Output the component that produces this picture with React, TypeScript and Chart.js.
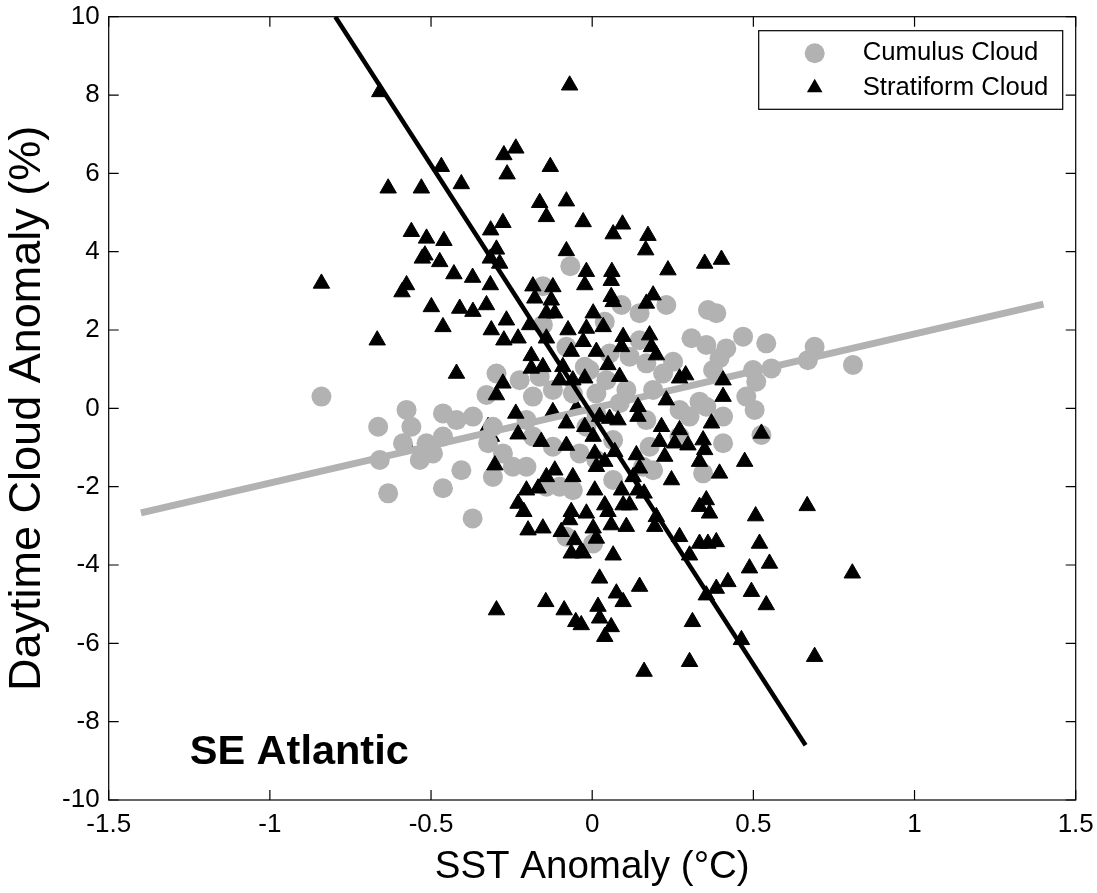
import React, { useEffect, useRef } from 'react';
import { Chart, registerables } from 'chart.js';

Chart.register(...registerables);

const FONT = '"Liberation Sans", Arial, Helvetica, sans-serif';
const GRAY = 'rgb(178,178,178)';

const xTicks = [-1.5, -1, -0.5, 0, 0.5, 1, 1.5];
const yTicks = [-10, -8, -6, -4, -2, 0, 2, 4, 6, 8, 10];

const legendLabels = ['Cumulus Cloud', 'Stratiform Cloud'];
const panelLabel = 'SE Atlantic';

// Cumulus cloud (gray circles)
const cumulusX = [
  -0.068, -0.153, -0.84, -0.664, -0.576, -0.561, -0.587, -0.659, -0.633, -0.514,
  -0.494, -0.535, -0.463, -0.421, -0.37, -0.463, -0.406, -0.463, -0.297, -0.328,
  -0.225, -0.163, -0.153, -0.308, -0.323, -0.277, -0.308, -0.246, -0.204, -0.184,
  -0.122, -0.06, -0.184, -0.122, -0.204, -0.039, -0.101, -0.06, -0.023, -0.08,
  -0.142, -0.371, -0.08, 0.003, 0.091, 0.147, 0.23, 0.359, 0.385, 0.039,
  0.308, 0.354, 0.416, 0.468, 0.54, 0.69, 0.669, 0.809, 0.556, 0.499,
  0.509, 0.478, 0.504, 0.406, 0.525, 0.406, 0.375, 0.395, 0.251, 0.22,
  0.333, 0.271, 0.302, 0.354, 0.168, 0.147, 0.116, 0.054, 0.044, 0.106,
  0.189, 0.168, 0.085, 0.013, -0.008, -0.018, 0.065, 0.178, 0.158, 0.189,
  0.271, 0.344, 0.065, 0.013, 0.013,
];
const cumulusY = [
  3.63, 3.12, 0.3, -0.47, -0.04, -0.47, -0.89, -1.32, -2.17, -0.89,
  -1.15, -1.32, -0.13, -0.3, -0.21, -0.72, -1.58, -2.04, 0.89, 0.34,
  0.72, 0.81, 2.13, -0.47, -0.89, -1.15, -1.75, -1.49, -0.3, 0.3,
  0.47, 0.38, -0.72, -0.98, -1.49, -1.15, -2.0, -2.09, 1.06, 1.57,
  -2.0, -2.81, -3.28, -3.45, 2.64, 2.43, 2.64, 2.51, 2.43, 2.21,
  1.79, 1.62, 1.53, 1.83, 1.66, 1.57, 1.23, 1.11, 1.02, 0.98,
  0.68, 0.3, -0.04, -0.21, -0.68, -0.89, 0.98, 1.28, 1.19, 0.89,
  0.17, -0.04, -0.21, 0.04, 1.15, 1.74, 1.32, 1.4, 0.72, 0.47,
  0.47, -0.3, 0.13, 0.38, 0.98, -0.47, -0.81, -0.98, -1.49, -1.58,
  -0.72, -1.66, -1.83, -1.32, -0.13,
];

// Stratiform cloud (black triangles)
const stratX = [
  -0.07, -0.659, -0.237, -0.274, -0.13, -0.468, -0.264, -0.633, -0.53, -0.406,
  -0.163, -0.08, -0.142, -0.028, -0.277, -0.315, -0.561, -0.514, -0.46, -0.297,
  -0.08, -0.519, -0.527, -0.473, -0.316, -0.287, -0.018, -0.429, -0.371, -0.84,
  -0.576, -0.316, -0.184, -0.122, -0.023, 0.094, 0.065, 0.173, 0.166, 0.401,
  0.349, 0.235, 0.061, 0.059, -0.59, -0.499, -0.411, -0.37, -0.328, -0.178,
  -0.127, -0.266, -0.313, -0.194, -0.142, -0.116, -0.463, -0.274, -0.23, -0.075,
  -0.018, -0.142, -0.667, -0.189, -0.153, -0.189, -0.091, -0.065, -0.028, -0.101,
  -0.06, -0.023, -0.421, -0.277, -0.297, -0.237, -0.08, -0.023, -0.23, -0.158,
  -0.08, -0.302, -0.142, -0.116, -0.06, -0.204, -0.168, 0.059, 0.065, 0.189,
  0.168, 0.003, 0.034, 0.096, 0.178, 0.091, 0.184, 0.013, 0.199, 0.049,
  0.085, 0.271, 0.29, 0.406, 0.406, 0.23, 0.142, 0.142, 0.023, 0.054,
  0.08, 0.003, 0.215, 0.271, 0.37, 0.209, 0.256, 0.297, 0.344, 0.349,
  0.525, 0.225, 0.333, 0.008, 0.07, 0.137, 0.039, 0.147, 0.013, 0.473,
  0.395, 0.246, 0.127, 0.008, 0.091, 0.142, 0.161, 0.039, 0.096, -0.018,
  0.049, 0.116, 0.199, 0.194, 0.333, 0.354, 0.364, 0.507, 0.667, 0.003,
  0.059, 0.106, 0.013, -0.034, 0.271, 0.333, 0.359, 0.385, 0.302, 0.519,
  0.065, 0.488, 0.55, 0.807, 0.023, 0.147, 0.075, 0.096, 0.354, 0.385,
  0.421, 0.494, 0.54, 0.018, 0.023, -0.034, 0.059, 0.039, 0.311, 0.463,
  0.302, 0.161, 0.69, -0.23, -0.212, -0.199, -0.153, -0.065, -0.07, -0.096,
  -0.054, -0.065, -0.028, -0.297, -0.144, -0.087, -0.051,
];
const stratY = [
  8.25, 8.08, 6.64, 6.47, 6.17, 6.17, 5.98, 5.62, 5.62, 5.73,
  5.25, 5.29, 4.89, 4.76, 4.74, 4.55, 4.51, 4.34, 4.28, 4.06,
  4.02, 3.91, 3.83, 3.74, 3.83, 3.7, 3.49, 3.43, 3.34, 3.19,
  3.15, 3.15, 3.12, 3.1, 3.15, 4.7, 4.45, 4.41, 4.04, 3.8,
  3.7, 3.53, 3.49, 3.26, 2.97, 2.59, 2.55, 2.47, 2.64, 2.81,
  2.76, 2.25, 2.0, 2.13, 2.43, 2.43, 2.08, 1.74, 1.79, 2.0,
  2.04, 1.79, 1.74, 1.34, 1.06, 1.02, 1.06, 1.45, 1.7, 0.72,
  0.72, 0.77, 0.89, 0.64, 0.34, -0.13, -0.38, -0.47, -0.66, -0.85,
  -0.95, -1.45, -1.75, -1.58, -1.75, -2.09, -2.04, 2.85, 2.72, 2.89,
  2.68, 2.43, 2.08, 1.83, 1.87, 1.57, 1.57, 1.45, 1.36, 1.11,
  0.81, 0.77, 0.85, 0.72, 0.3, 0.21, 0.04, -0.21, -0.21, -0.26,
  -0.3, -0.72, -0.47, -0.55, -0.38, -0.85, -0.89, -0.94, -0.81, -1.06,
  -0.64, -1.23, -1.36, -1.15, -1.11, -1.19, -1.36, -1.53, -1.49, -1.36,
  -1.66, -1.83, -1.75, -2.09, -2.09, -2.09, -2.17, -2.47, -2.47, -2.68,
  -2.64, -2.47, -2.77, -3.02, -2.51, -2.34, -2.68, -2.75, -2.49, -3.06,
  -2.98, -3.02, -3.32, -3.66, -3.28, -3.45, -3.45, -3.41, -3.75, -3.45,
  -3.75, -4.08, -3.96, -4.21, -4.34, -4.55, -4.72, -4.94, -4.77, -4.6,
  -4.43, -4.68, -5.02, -5.06, -5.36, -5.53, -5.58, -5.83, -5.45, -5.91,
  -6.47, -6.72, -6.34, -2.43, -2.64, -3.11, -3.06, -2.64, -2.85, -3.15,
  -3.36, -3.7, -3.7, -5.15, -4.94, -5.15, -5.45,
];

// Stratiform points mostly hidden beneath the cumulus circles
const stratHiddenX = [-0.576, -0.323, -0.313, -0.122, -0.049];
const stratHiddenY = [-0.94, -0.47, -0.72, -0.09, 0.0];

// Least-squares fit lines (end points)
const cumulusFitX = [-1.4, 1.4];
const cumulusFitY = [-2.67, 2.66];
const stratFitX = [-0.797, 0.662];
const stratFitY = [10.0, -8.6];

const toPts = (xs: number[], ys: number[]) => xs.map((x, i) => ({ x, y: ys[i] }));

const decorPlugin = {
  id: 'decor',
  afterDraw(chart: any) {
    const { ctx, chartArea: a, scales } = chart;
    ctx.save();
    // axes box + inward ticks
    ctx.strokeStyle = '#000';
    ctx.lineWidth = 1.2;
    ctx.strokeRect(a.left, a.top, a.right - a.left, a.bottom - a.top);
    const tl = 10;
    ctx.beginPath();
    for (const v of xTicks) {
      const px = scales.x.getPixelForValue(v);
      ctx.moveTo(px, a.bottom);
      ctx.lineTo(px, a.bottom - tl);
      ctx.moveTo(px, a.top);
      ctx.lineTo(px, a.top + tl);
    }
    for (const v of yTicks) {
      const py = scales.y.getPixelForValue(v);
      ctx.moveTo(a.left, py);
      ctx.lineTo(a.left + tl, py);
      ctx.moveTo(a.right, py);
      ctx.lineTo(a.right - tl, py);
    }
    ctx.stroke();

    // legend
    const bw = 304;
    const bh = 78.6;
    const bx = a.right - 13 - bw;
    const by = a.top + 14;
    ctx.fillStyle = '#fff';
    ctx.fillRect(bx, by, bw, bh);
    ctx.lineWidth = 1.2;
    ctx.strokeStyle = '#000';
    ctx.strokeRect(bx, by, bw, bh);
    const mx = bx + 56;
    const row1 = by + 22.6;
    const row2 = by + 57.6;
    ctx.fillStyle = GRAY;
    ctx.beginPath();
    ctx.arc(mx, row1, 10, 0, Math.PI * 2);
    ctx.fill();
    ctx.fillStyle = '#000';
    const r = 9;
    const cy = row2 - 0.5;
    ctx.beginPath();
    ctx.moveTo(mx, cy - r);
    ctx.lineTo(mx + 0.866 * r, cy + 0.5 * r);
    ctx.lineTo(mx - 0.866 * r, cy + 0.5 * r);
    ctx.closePath();
    ctx.fill();
    ctx.font = `25.7px ${FONT}`;
    ctx.textAlign = 'left';
    ctx.textBaseline = 'middle';
    ctx.fillText(legendLabels[0], bx + 104, row1);
    ctx.fillText(legendLabels[1], bx + 104, row2);

    // panel label
    ctx.font = `bold 41.5px ${FONT}`;
    ctx.fillText(panelLabel, a.left + 81, a.top + 736);
    ctx.restore();
  },
};

export default function App() {
  const ref = useRef<HTMLCanvasElement>(null);
  useEffect(() => {
    if (!ref.current) return;
    const chart = new Chart(ref.current, {
      type: 'scatter',
      data: {
        datasets: [
          {
            label: 'stratFit',
            data: toPts(stratFitX, stratFitY),
            showLine: true,
            borderColor: '#000',
            borderWidth: 4.5,
            pointRadius: 0,
            order: 0,
          },
          {
            label: legendLabels[1],
            data: toPts(stratX, stratY),
            pointStyle: 'triangle',
            pointRadius: 9.5,
            pointBackgroundColor: '#000',
            pointBorderColor: '#000',
            pointBorderWidth: 1,
            order: 1,
          },
          {
            label: 'cumulusFit',
            data: toPts(cumulusFitX, cumulusFitY),
            showLine: true,
            borderColor: GRAY,
            borderWidth: 7,
            pointRadius: 0,
            order: 2,
          },
          {
            label: legendLabels[0],
            data: toPts(cumulusX, cumulusY),
            pointStyle: 'circle',
            pointRadius: 10,
            pointBackgroundColor: GRAY,
            pointBorderWidth: 0,
            order: 3,
          },
          {
            label: 'stratHidden',
            data: toPts(stratHiddenX, stratHiddenY),
            pointStyle: 'triangle',
            pointRadius: 9.5,
            pointBackgroundColor: '#000',
            pointBorderColor: '#000',
            pointBorderWidth: 1,
            order: 4,
          },
        ],
      },
      options: {
        responsive: false,
        animation: false,
        devicePixelRatio: 1,
        layout: { padding: { top: 16.7, right: 21.3, left: 0, bottom: 0 } },
        plugins: {
          legend: { display: false },
          tooltip: { enabled: false },
        },
        scales: {
          x: {
            type: 'linear',
            position: 'bottom',
            min: -1.5,
            max: 1.5,
            afterBuildTicks: (s: any) => {
              s.ticks = xTicks.map((v) => ({ value: v }));
            },
            afterFit: (s: any) => {
              s.height = 93;
              s.paddingLeft = 0;
              s.paddingRight = 0;
            },
            ticks: {
              callback: (v: any) => String(v),
              font: { family: FONT, size: 26 },
              color: '#000',
              padding: 9,
              maxRotation: 0,
              autoSkip: false,
            },
            grid: { display: false, drawTicks: false },
            border: { display: false },
            title: {
              display: true,
              text: 'SST Anomaly (°C)',
              font: { family: FONT, size: 38.5 },
              color: '#000',
              padding: { top: 0, bottom: 3 },
            },
          },
          y: {
            type: 'linear',
            position: 'left',
            min: -10,
            max: 10,
            afterBuildTicks: (s: any) => {
              s.ticks = yTicks.map((v) => ({ value: v }));
            },
            afterFit: (s: any) => {
              s.width = 108.7;
              s.paddingTop = 0;
              s.paddingBottom = 0;
            },
            ticks: {
              callback: (v: any) => String(v),
              font: { family: FONT, size: 26 },
              color: '#000',
              padding: 9,
              autoSkip: false,
            },
            grid: { display: false, drawTicks: false },
            border: { display: false },
            title: {
              display: true,
              text: 'Daytime Cloud Anomaly (%)',
              font: { family: FONT, size: 45 },
              color: '#000',
              padding: { top: 1, bottom: 0 },
            },
          },
        },
      },
      plugins: [decorPlugin],
    } as any);
    return () => chart.destroy();
  }, []);
  return (
    <div style={{ position: 'absolute', left: 0, top: 0, width: 1097, height: 893, background: '#fff' }}>
      <canvas ref={ref} width={1097} height={893} style={{ display: 'block' }} />
    </div>
  );
}
